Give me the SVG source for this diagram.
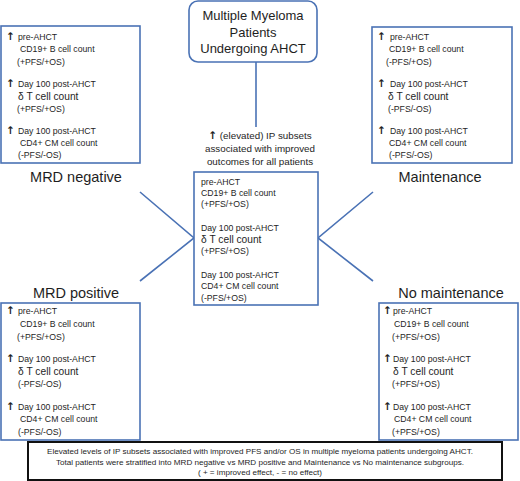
<svg xmlns="http://www.w3.org/2000/svg" width="520" height="481" viewBox="0 0 520 481">
<style>
.box{fill:#fff;stroke:#4a72b5;stroke-width:1.6}
.conn{stroke:#4a72b5;stroke-width:1.6;fill:none}
text{font-family:"Liberation Sans",Arial,sans-serif;fill:#1e1e1e}
.s{font-size:8.7px}
.d{font-size:10.2px}
.ar{font-family:"DejaVu Sans",sans-serif;font-weight:bold;font-size:10.5px}
.lab{font-size:14.5px;text-anchor:middle}
.ttl{font-size:13px;text-anchor:middle}
.cap{font-size:8.1px;text-anchor:middle}
.hdr{font-size:9.8px;text-anchor:middle}
</style>
<rect width="520" height="481" fill="#fff"/>
<g id="connectors">
<line class="conn" x1="256" y1="62" x2="256" y2="127"/>
<polyline class="conn" points="140,192 194,238 140,281"/>
<polyline class="conn" points="373,192 318,238 373,281"/>
</g>
<g id="top">
<rect class="box" x="189" y="1" width="128" height="61" rx="9"/>
<text class="ttl" x="253" y="20">Multiple Myeloma</text>
<text class="ttl" x="253" y="37">Patients</text>
<text class="ttl" x="253" y="53">Undergoing AHCT</text>
</g>
<g id="center">
<text class="hdr" x="260" y="139"><tspan class="ar">↑</tspan> (elevated) IP subsets</text>
<text class="hdr" x="260" y="152">associated with improved</text>
<text class="hdr" x="260" y="165">outcomes for all patients</text>
<rect class="box" x="194" y="172" width="124" height="133"/>
<text class="s" x="201" y="185">pre-AHCT</text>
<text class="s" x="201" y="196">CD19+ B cell count</text>
<text class="s" x="201" y="207">(+PFS/+OS)</text>
<text class="s" x="201" y="231">Day 100 post-AHCT</text>
<text class="d" x="201" y="243">δ T cell count</text>
<text class="s" x="201" y="254">(+PFS/+OS)</text>
<text class="s" x="201" y="278">Day 100 post-AHCT</text>
<text class="s" x="201" y="289">CD4+ CM cell count</text>
<text class="s" x="201" y="301">(-PFS/+OS)</text>
</g>
<g id="mrd-negative">
<rect class="box" x="1" y="26" width="139" height="137"/>
<text class="ar" x="6" y="40">↑</text>
<text class="s" x="18" y="40">pre-AHCT</text>
<text class="s" x="20" y="52">CD19+ B cell count</text>
<text class="s" x="17" y="65">(+PFS/+OS)</text>
<text class="ar" x="6" y="87">↑</text>
<text class="s" x="18" y="87">Day 100 post-AHCT</text>
<text class="d" x="18" y="100">δ T cell count</text>
<text class="s" x="17" y="112">(+PFS/+OS)</text>
<text class="ar" x="6" y="134">↑</text>
<text class="s" x="18" y="134">Day 100 post-AHCT</text>
<text class="s" x="20" y="146">CD4+ CM cell count</text>
<text class="s" x="18" y="158">(-PFS/-OS)</text>
<text class="lab" x="76" y="182">MRD negative</text>
</g>
<g id="maintenance">
<rect class="box" x="372" y="27" width="140" height="136"/>
<text class="ar" x="377" y="40">↑</text>
<text class="s" x="390" y="40">pre-AHCT</text>
<text class="s" x="389" y="52">CD19+ B cell count</text>
<text class="s" x="386" y="65">(-PFS/+OS)</text>
<text class="ar" x="377" y="87">↑</text>
<text class="s" x="390" y="87">Day 100 post-AHCT</text>
<text class="d" x="388" y="100">δ T cell count</text>
<text class="s" x="388" y="112">(-PFS/-OS)</text>
<text class="ar" x="377" y="134">↑</text>
<text class="s" x="390" y="134">Day 100 post-AHCT</text>
<text class="s" x="389" y="146">CD4+ CM cell count</text>
<text class="s" x="389" y="158">(-PFS/-OS)</text>
<text class="lab" x="440" y="182">Maintenance</text>
</g>
<g id="mrd-positive">
<text class="lab" x="76" y="298">MRD positive</text>
<rect class="box" x="1" y="303" width="139" height="137"/>
<text class="ar" x="6" y="314">↑</text>
<text class="s" x="18" y="314">pre-AHCT</text>
<text class="s" x="20" y="327">CD19+ B cell count</text>
<text class="s" x="17" y="340">(+PFS/+OS)</text>
<text class="ar" x="6" y="362">↑</text>
<text class="s" x="18" y="362">Day 100 post-AHCT</text>
<text class="d" x="18" y="375">δ T cell count</text>
<text class="s" x="18" y="387">(-PFS/-OS)</text>
<text class="ar" x="6" y="410">↑</text>
<text class="s" x="18" y="410">Day 100 post-AHCT</text>
<text class="s" x="20" y="422">CD4+ CM cell count</text>
<text class="s" x="18" y="435">(-PFS/-OS)</text>
</g>
<g id="no-maintenance">
<text class="lab" x="451" y="298">No maintenance</text>
<rect class="box" x="379" y="303" width="139" height="137"/>
<text class="ar" x="383" y="314">↑</text>
<text class="s" x="393" y="314">pre-AHCT</text>
<text class="s" x="394" y="327">CD19+ B cell count</text>
<text class="s" x="392" y="340">(+PFS/+OS)</text>
<text class="ar" x="383" y="362">↑</text>
<text class="s" x="393" y="362">Day 100 post-AHCT</text>
<text class="d" x="393" y="375">δ T cell count</text>
<text class="s" x="392" y="387">(+PFS/+OS)</text>
<text class="ar" x="383" y="410">↑</text>
<text class="s" x="393" y="410">Day 100 post-AHCT</text>
<text class="s" x="394" y="422">CD4+ CM cell count</text>
<text class="s" x="392" y="435">(+PFS/+OS)</text>
</g>
<g id="caption">
<rect x="28" y="442" width="474" height="38" fill="#fff" stroke="#111" stroke-width="2"/>
<text class="cap" x="260" y="454">Elevated levels of IP subsets associated with improved PFS and/or OS in multiple myeloma patients undergoing AHCT.</text>
<text class="cap" x="260" y="465">Total patients were stratified into MRD negative vs MRD positive and Maintenance vs No maintenance subgroups.</text>
<text class="cap" x="260" y="475">( + = improved effect, - = no effect)</text>
</g>
</svg>
